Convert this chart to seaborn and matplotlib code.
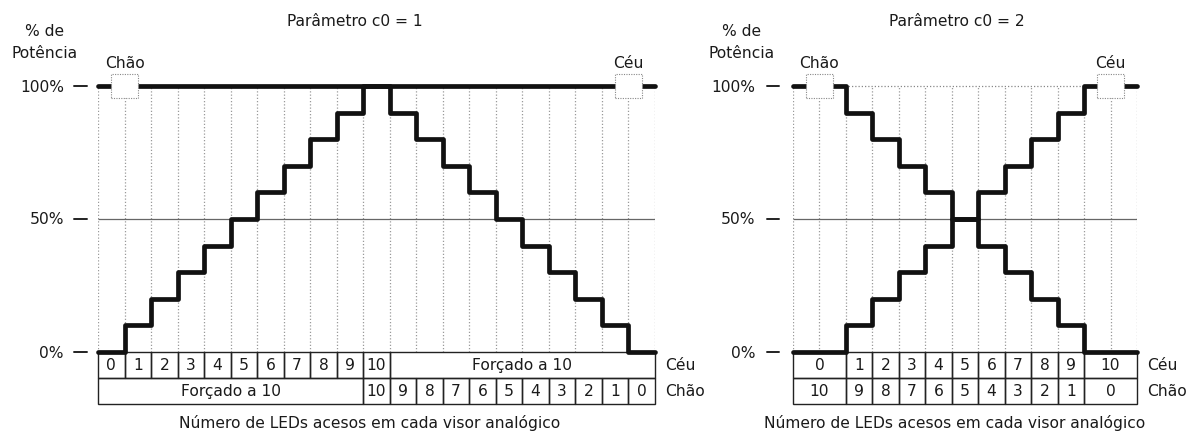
import numpy as np
import pandas as pd
import matplotlib
matplotlib.use("Agg")
import matplotlib.pyplot as plt
import matplotlib.transforms as mtransforms
from matplotlib.patches import Rectangle
import seaborn as sns

# ============================================================
# 数据：每一列的功率 (%) 与表格文字
# ============================================================
# 参数 c0 = 1（21 列）
pot_ceu_c1 = [0, 10, 20, 30, 40, 50, 60, 70, 80, 90, 100,
              100, 100, 100, 100, 100, 100, 100, 100, 100, 100]
pot_chao_c1 = [100, 100, 100, 100, 100, 100, 100, 100, 100, 100, 100,
               90, 80, 70, 60, 50, 40, 30, 20, 10, 0]
ceu_labels_c1 = ["0", "1", "2", "3", "4", "5", "6", "7", "8", "9", "10", "Forçado a 10"]
ceu_spans_c1 = [1, 1, 1, 1, 1, 1, 1, 1, 1, 1, 1, 10]
chao_labels_c1 = ["Forçado a 10", "10", "9", "8", "7", "6", "5", "4", "3", "2", "1", "0"]
chao_spans_c1 = [10, 1, 1, 1, 1, 1, 1, 1, 1, 1, 1, 1]

# 参数 c0 = 2（13 列）
pot_ceu_c2 = [0, 0, 10, 20, 30, 40, 50, 60, 70, 80, 90, 100, 100]
pot_chao_c2 = [100, 100, 90, 80, 70, 60, 50, 40, 30, 20, 10, 0, 0]
ceu_labels_c2 = ["0", "1", "2", "3", "4", "5", "6", "7", "8", "9", "10"]
ceu_spans_c2 = [2, 1, 1, 1, 1, 1, 1, 1, 1, 1, 2]
chao_labels_c2 = ["10", "9", "8", "7", "6", "5", "4", "3", "2", "1", "0"]
chao_spans_c2 = [2, 1, 1, 1, 1, 1, 1, 1, 1, 1, 2]

y_ticks = [0, 50, 100]
y_tick_labels = ["0%", "50%", "100%"]

# ============================================================
# 全局设置
# ============================================================
sns.set_theme(style="white")
plt.rcParams["font.family"] = ["DejaVu Sans"]
plt.rcParams["text.color"] = "#1a1a1a"
FS = 11.2

W, H = 1188, 435
fig = plt.figure(figsize=(W / 100, H / 100), dpi=100)
fig.patch.set_facecolor("white")

Y_BOT, Y_TOP = -19.5, 104
PX_PER_UNIT = 2.66
Y0_PX = 353  # 0% 的像素位置


def fx(x):
    return x / W


def fy(y):
    return 1 - y / H


def make_axes(x_left, x_right):
    top_px = Y0_PX - Y_TOP * PX_PER_UNIT
    bot_px = Y0_PX - Y_BOT * PX_PER_UNIT
    ax = fig.add_axes([fx(x_left), fy(bot_px), (x_right - x_left) / W, (bot_px - top_px) / H])
    ax.set_axis_off()
    return ax


def draw_row(ax, labels, spans, y_top, h):
    x = 0
    for lab, sp in zip(labels, spans):
        ax.add_patch(Rectangle((x, y_top - h), sp, h, fill=False, ec="#222", lw=1.0, clip_on=False))
        ax.text(x + sp / 2, y_top - h / 2, lab, ha="center", va="center", fontsize=FS, clip_on=False)
        x += sp


def draw_panel(ax, pot_a, pot_b, ceu_labels, ceu_spans, chao_labels, chao_spans,
               title, title_x, xlabel_x, ylab_x, dash_x, pot_x, dotted_top):
    n = len(pot_a)
    edges = np.arange(n + 1)
    ax.set_xlim(0, n)
    ax.set_ylim(Y_BOT, Y_TOP)

    # 网格：竖向虚线 + 50% 线
    ax.vlines(edges, 0, 100, colors="#9a9a9a", linestyles=(0, (1, 1.6)), lw=0.9, zorder=1)
    ax.hlines(50, 0, n, colors="#666666", lw=0.9, zorder=1)
    if dotted_top:
        ax.hlines(100, 0, n, colors="#888888", linestyles=(0, (1, 1.6)), lw=0.9, zorder=1)

    # 阶梯曲线
    for pot in (pot_a, pot_b):
        df = pd.DataFrame({"col": edges, "pot": list(pot) + [pot[-1]]})
        sns.lineplot(data=df, x="col", y="pot", drawstyle="steps-post", color="#111111",
                     lw=3.4, estimator=None, ax=ax, zorder=3, clip_on=False)
    if ax.get_legend() is not None:
        ax.get_legend().remove()
    ax.set_axis_off()

    # 顶部 Chão / Céu 小框
    for x0, lab in ((0.5, "Chão"), (n - 1.5, "Céu")):
        ax.add_patch(Rectangle((x0, 95.5), 1, 9, fc="white", ec="#888888", lw=0.8,
                               ls=(0, (1, 1.2)), zorder=5, clip_on=False))
        ax.text(x0 + 0.5, 109, lab, ha="center", va="center", fontsize=FS, clip_on=False)

    # 表格
    row_h = 9.75
    draw_row(ax, ceu_labels, ceu_spans, 0, row_h)
    draw_row(ax, chao_labels, chao_spans, -row_h, row_h)
    ax.text(n + 0.38, -row_h * 0.5, "Céu", ha="left", va="center", fontsize=FS, clip_on=False)
    ax.text(n + 0.38, -row_h * 1.5, "Chão", ha="left", va="center", fontsize=FS, clip_on=False)

    # y 轴标签与短横线
    trans = mtransforms.blended_transform_factory(fig.transFigure, ax.transData)
    for v, lab in zip(y_ticks, y_tick_labels):
        fig.text(fx(ylab_x), v, lab, ha="right", va="center", fontsize=FS, transform=trans)
        ax.plot([fx(dash_x[0]), fx(dash_x[1])], [v, v], color="#222", lw=1.4,
                transform=trans, clip_on=False)
    fig.text(fx(pot_x), fy(31), "% de", ha="center", va="center", fontsize=FS)
    fig.text(fx(pot_x), fy(53), "Potência", ha="center", va="center", fontsize=FS)

    fig.text(fx(title_x), fy(21), title, ha="center", va="center", fontsize=FS)
    fig.text(fx(xlabel_x), fy(423), "Número de LEDs acesos em cada visor analógico",
             ha="center", va="center", fontsize=FS)


ax1 = make_axes(98, 655)
draw_panel(ax1, pot_ceu_c1, pot_chao_c1, ceu_labels_c1, ceu_spans_c1, chao_labels_c1, chao_spans_c1,
           "Parâmetro c0 = 1", 355, 370, 64, (74, 87), 45, dotted_top=False)

ax2 = make_axes(793, 1137)
draw_panel(ax2, pot_ceu_c2, pot_chao_c2, ceu_labels_c2, ceu_spans_c2, chao_labels_c2, chao_spans_c2,
           "Parâmetro c0 = 2", 957, 955, 755, (767, 779), 742, dotted_top=True)

fig.savefig("out.png", dpi=100)
plt.close(fig)
